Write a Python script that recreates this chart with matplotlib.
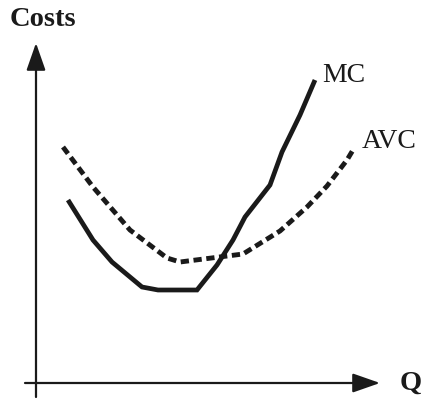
import matplotlib.pyplot as plt

# curves (Q, cost), origin at the axes corner
mc_q = [32, 57, 76, 106, 122, 161, 181, 197, 209, 234, 246, 264, 279]
mc_c = [183, 143, 121, 96, 93, 93, 118, 143, 166, 198, 231, 268, 303]

avc_q = [27, 57, 94, 131, 144, 207, 244, 271, 291, 311, 317]
avc_c = [236, 196, 153, 125, 121, 129, 152, 176, 197, 223, 233]

ink = "#1a1a1a"

fig = plt.figure(figsize=(4.23, 3.99), dpi=100)
ax = fig.add_axes([0, 0, 1, 1])
ax.set_xlim(-36, 387)
ax.set_ylim(-16, 383)
ax.axis("off")

# axes with arrow heads
arrow = dict(arrowstyle="-|>,head_length=1.2,head_width=0.42", lw=1.6,
             color=ink, mutation_scale=14, shrinkA=0, shrinkB=0)
ax.annotate("", xy=(0, 340), xytext=(0, -14), arrowprops=arrow)
ax.annotate("", xy=(344, 0), xytext=(-11, 0), arrowprops=arrow)

ax.plot(mc_q, mc_c, color=ink, lw=3.4, solid_joinstyle="miter",
        solid_capstyle="butt")
ax.plot(avc_q, avc_c, color=ink, lw=3.5, linestyle=(0, (1.7, 0.95)),
        dash_capstyle="butt")

serif = "Liberation Serif"
ax.text(-26, 363, "Costs", family=serif, weight="bold", fontsize=20.5,
        ha="left", va="center", color=ink)
ax.text(364, 0, "Q", family=serif, weight="bold", fontsize=20.5,
        ha="left", va="center", color=ink)
ax.text(286, 308, "MC", family=serif, fontsize=20, ha="left",
        va="center", color=ink)
ax.text(326, 241, "AVC", family=serif, fontsize=20, ha="left",
        va="center", color=ink)

fig.savefig("out.png", dpi=100)
